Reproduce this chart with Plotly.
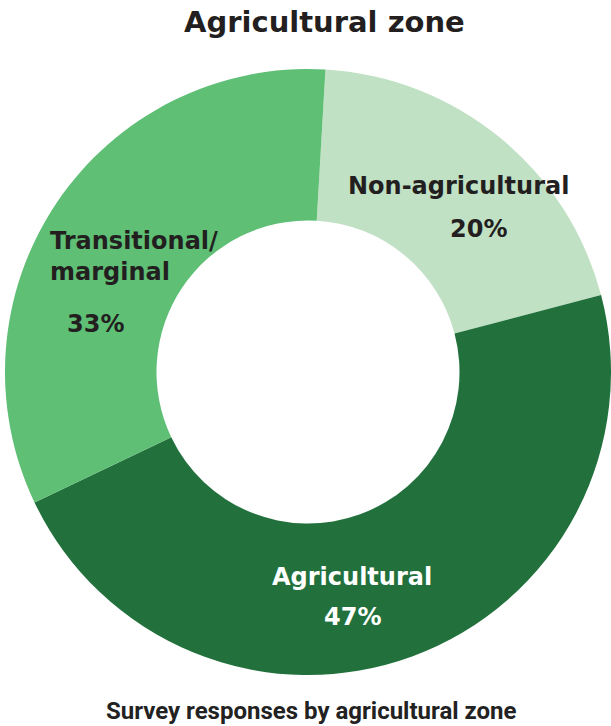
import plotly.graph_objects as go

W, H = 611, 726

categories = ["Non-agricultural", "Agricultural", "Transitional/marginal"]
values = [20, 47, 33]
colors = ["#c1e1c5", "#22713d", "#5ebf75"]

title_text = "Agricultural zone"
caption_text = "Survey responses by agricultural zone"

# label text lines with pixel anchor positions (x, y, xanchor)
label_lines = [
    ("Non-agricultural", 458, 186, "center", "#231f20"),
    ("20%", 478, 229, "center", "#231f20"),
    ("Transitional/", 48, 241, "left", "#231f20"),
    ("marginal", 48, 272, "left", "#231f20"),
    ("33%", 95, 324, "center", "#231f20"),
    ("Agricultural", 352, 577, "center", "#ffffff"),
    ("47%", 352, 617, "center", "#ffffff"),
]

fig = go.Figure(go.Pie(
    labels=categories,
    values=values,
    hole=0.5,
    sort=False,
    direction="clockwise",
    rotation=3.3,
    marker=dict(colors=colors, line=dict(width=0)),
    textinfo="none",
    hoverinfo="label+percent",
    domain=dict(x=[5 / W, 611 / W], y=[1 - 675 / H, 1 - 69 / H]),
    showlegend=False,
))

annotations = []
for txt, px, py, xa, col in label_lines:
    annotations.append(dict(
        text=txt, x=px / W, y=1 - py / H, xref="paper", yref="paper",
        xanchor=xa, yanchor="middle", showarrow=False,
        font=dict(family="DejaVu Sans", size=24, color=col, weight="bold"),
    ))
annotations.append(dict(
    text=title_text, x=324 / W, y=1 - 22 / H, xref="paper", yref="paper",
    xanchor="center", yanchor="middle", showarrow=False,
    font=dict(family="DejaVu Sans", size=29, color="#231f20", weight="bold"),
))
annotations.append(dict(
    text=caption_text, x=311 / W, y=1 - 711 / H, xref="paper", yref="paper",
    xanchor="center", yanchor="middle", showarrow=False,
    font=dict(family="Roboto", size=24, color="#222222", weight="bold"),
))

fig.update_layout(
    width=W, height=H,
    margin=dict(l=0, r=0, t=0, b=0),
    paper_bgcolor="white", plot_bgcolor="white",
    annotations=annotations,
)

fig.write_html(
    "out.html",
    config={"displayModeBar": False},
    post_script="document.body.style.margin='0';document.body.style.overflow='hidden';",
)
